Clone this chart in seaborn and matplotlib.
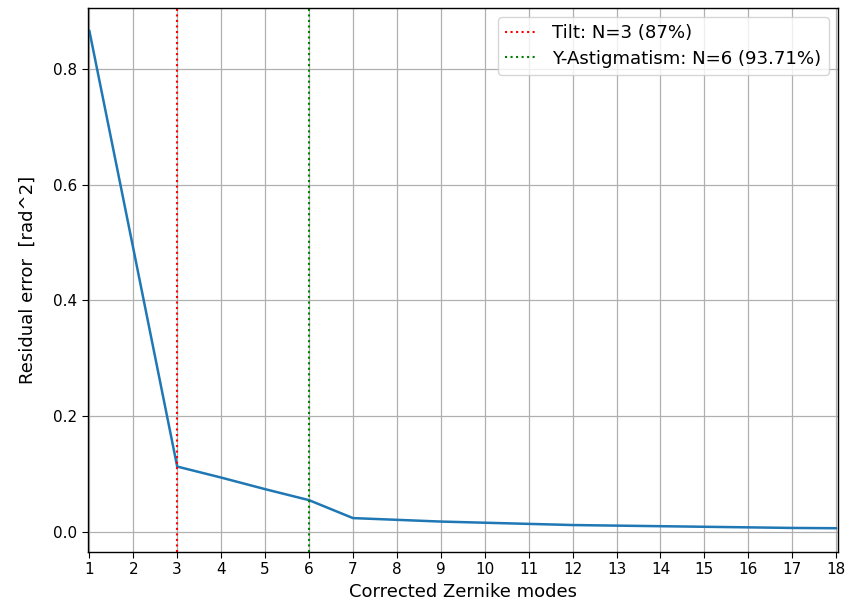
import matplotlib
matplotlib.use("Agg")
import matplotlib.pyplot as plt
import seaborn as sns
import numpy as np

modes = list(range(1, 19))
residual = [0.866, 0.49, 0.113, 0.094, 0.074, 0.055, 0.024, 0.021, 0.018, 0.016,
            0.014, 0.012, 0.011, 0.010, 0.009, 0.008, 0.007, 0.0065]
tilt_n = 3
tilt_label = "Tilt: N=3 (87%)"
astig_n = 6
astig_label = "Y-Astigmatism: N=6 (93.71%)"

sns.set_style("ticks")
plt.rcParams['font.family'] = ['DejaVu Sans']
plt.rcParams['text.color'] = 'black'
plt.rcParams['axes.labelcolor'] = 'black'
plt.rcParams['xtick.color'] = 'black'
plt.rcParams['ytick.color'] = 'black'

fig = plt.figure(figsize=(8.51, 6.12), dpi=100)
ax = fig.add_axes([0.1034, 0.098, 0.8813, 0.889])
sns.lineplot(x=modes, y=residual, ax=ax, color="#1f77b4", linewidth=1.8)
ax.axvline(tilt_n, color="red", linestyle=":", linewidth=1.5, label=tilt_label)
ax.axvline(astig_n, color="green", linestyle=":", linewidth=1.5, label=astig_label)
ax.set_xticks(modes)
ax.set_xlim(0.97, 18.04)
ax.set_ylim(-0.0346, 0.905)
ax.set_yticks([0.0, 0.2, 0.4, 0.6, 0.8])
ax.grid(True, color="#b0b0b0", linewidth=0.9)
ax.tick_params(labelsize=11, direction="out", length=4)
ax.set_xlabel("Corrected Zernike modes", fontsize=13)
ax.set_ylabel("Residual error  [rad^2]", fontsize=13, labelpad=12)
for s in ax.spines.values():
    s.set_visible(True)
    s.set_color("black")
    s.set_linewidth(1.0)
ax.legend(loc="upper right", fontsize=13.1, framealpha=0.8, borderpad=0.4,
          labelspacing=0.4, handlelength=1.8, borderaxespad=0.5)
fig.savefig("out.png", dpi=100)
